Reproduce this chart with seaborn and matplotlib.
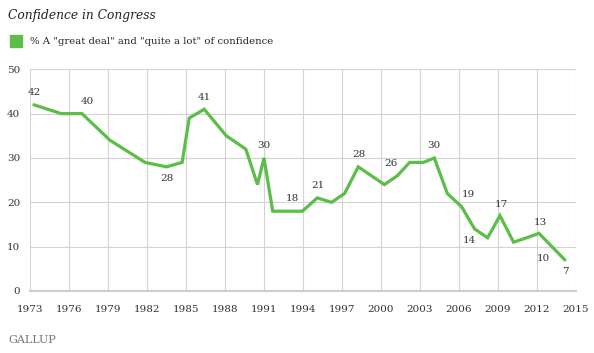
import matplotlib
matplotlib.use("Agg")
import matplotlib.pyplot as plt
import seaborn as sns
import pandas as pd

# ---- data ----
years = [1973.3, 1975.4, 1977.0, 1979.15, 1981.85, 1983.5, 1984.7, 1985.25, 1986.4,
         1988.1, 1989.6, 1990.5, 1991.0, 1991.67, 1993.0, 1993.95, 1995.1, 1996.2,
         1997.2, 1998.25, 2000.26, 2001.26, 2002.2, 2003.26, 2004.1, 2005.1, 2006.2,
         2007.2, 2008.2, 2009.15, 2010.2, 2011.2, 2012.15, 2013.15, 2014.15]
values = [42, 40, 40, 34, 29, 28, 29, 39, 41,
          35, 32, 24, 30, 18, 18, 18, 21, 20,
          22, 28, 24, 26, 29, 29, 30, 22, 19,
          14, 12, 17, 11, 12, 13, 10, 7]
series_name = '% A "great deal" and "quite a lot" of confidence'
title = "Confidence in Congress"
x_ticks = [1973, 1976, 1979, 1982, 1985, 1988, 1991, 1994, 1997, 2000, 2003, 2006, 2009, 2012, 2015]
y_ticks = [0, 10, 20, 30, 40, 50]
# labelled points: index into the series
label_idx = [0, 2, 5, 8, 12, 14, 16, 19, 21, 24, 26, 27, 29, 32, 33, 34]

# label offsets in pixels (styling)
label_off = {0: (0, 12), 2: (5, 12), 5: (0, -12), 8: (0, 12), 12: (0, 12), 14: (2, 13),
             16: (1, 12), 19: (1, 12), 21: (-6, 12), 24: (0, 12), 26: (7, 12),
             27: (-5, -12), 29: (1, 11), 32: (1, 11), 33: (-9, -12), 34: (0, -12)}

df = pd.DataFrame({"year": years, "value": values, "series": series_name})

GREEN = "#5cbd48"
sns.set_style("white")
plt.rcParams["font.family"] = ["DejaVu Serif"]

fig = plt.figure(figsize=(5.94, 3.53), dpi=100)
ax = fig.add_axes([30 / 594, 1 - 291 / 353, 546 / 594, (291 - 69.3) / 353])

sns.lineplot(data=df, x="year", y="value", color=GREEN, linewidth=2.3, ax=ax,
             legend=False, solid_joinstyle="miter")

ax.set_xlim(1973, 2015)
ax.set_ylim(0, 50)
ax.set_xticks(x_ticks)
ax.set_yticks(y_ticks)
ax.set_xticklabels([str(t) for t in x_ticks])
ax.set_yticklabels([str(t) for t in y_ticks])
ax.grid(True, color="#d3d3d3", linewidth=0.8)
ax.set_axisbelow(True)
for s in ["top", "left", "right"]:
    ax.spines[s].set_visible(False)
ax.spines["bottom"].set_color("#cfcfcf")
ax.spines["bottom"].set_linewidth(1.6)
ax.tick_params(axis="both", length=0, labelsize=7.5, colors="#333333")
ax.tick_params(axis="y", pad=7)
ax.tick_params(axis="x", pad=10)
ax.set_xlabel("")
ax.set_ylabel("")

for i in label_idx:
    dx, dy = label_off[i]
    ax.annotate(str(values[i]), (years[i], values[i]), xytext=(dx, dy),
                textcoords="offset pixels", ha="center", va="center",
                fontsize=7.5, color="#333333")

fig.text(8 / 594, 1 - 15 / 353, title, fontsize=8.8, style="italic",
         color="#222222", va="center", ha="left")
fig.patches.append(plt.Rectangle((10 / 594, 1 - 47 / 353), 12 / 594, 12 / 353,
                                 transform=fig.transFigure, color=GREEN))
fig.text(30 / 594, 1 - 41.5 / 353, series_name, fontsize=7.3, color="#222222",
         va="center", ha="left")
fig.text(8 / 594, 1 - 340 / 353, "GALLUP", fontsize=8, color="#777777",
         va="center", ha="left")

fig.savefig("out.png", dpi=100)
